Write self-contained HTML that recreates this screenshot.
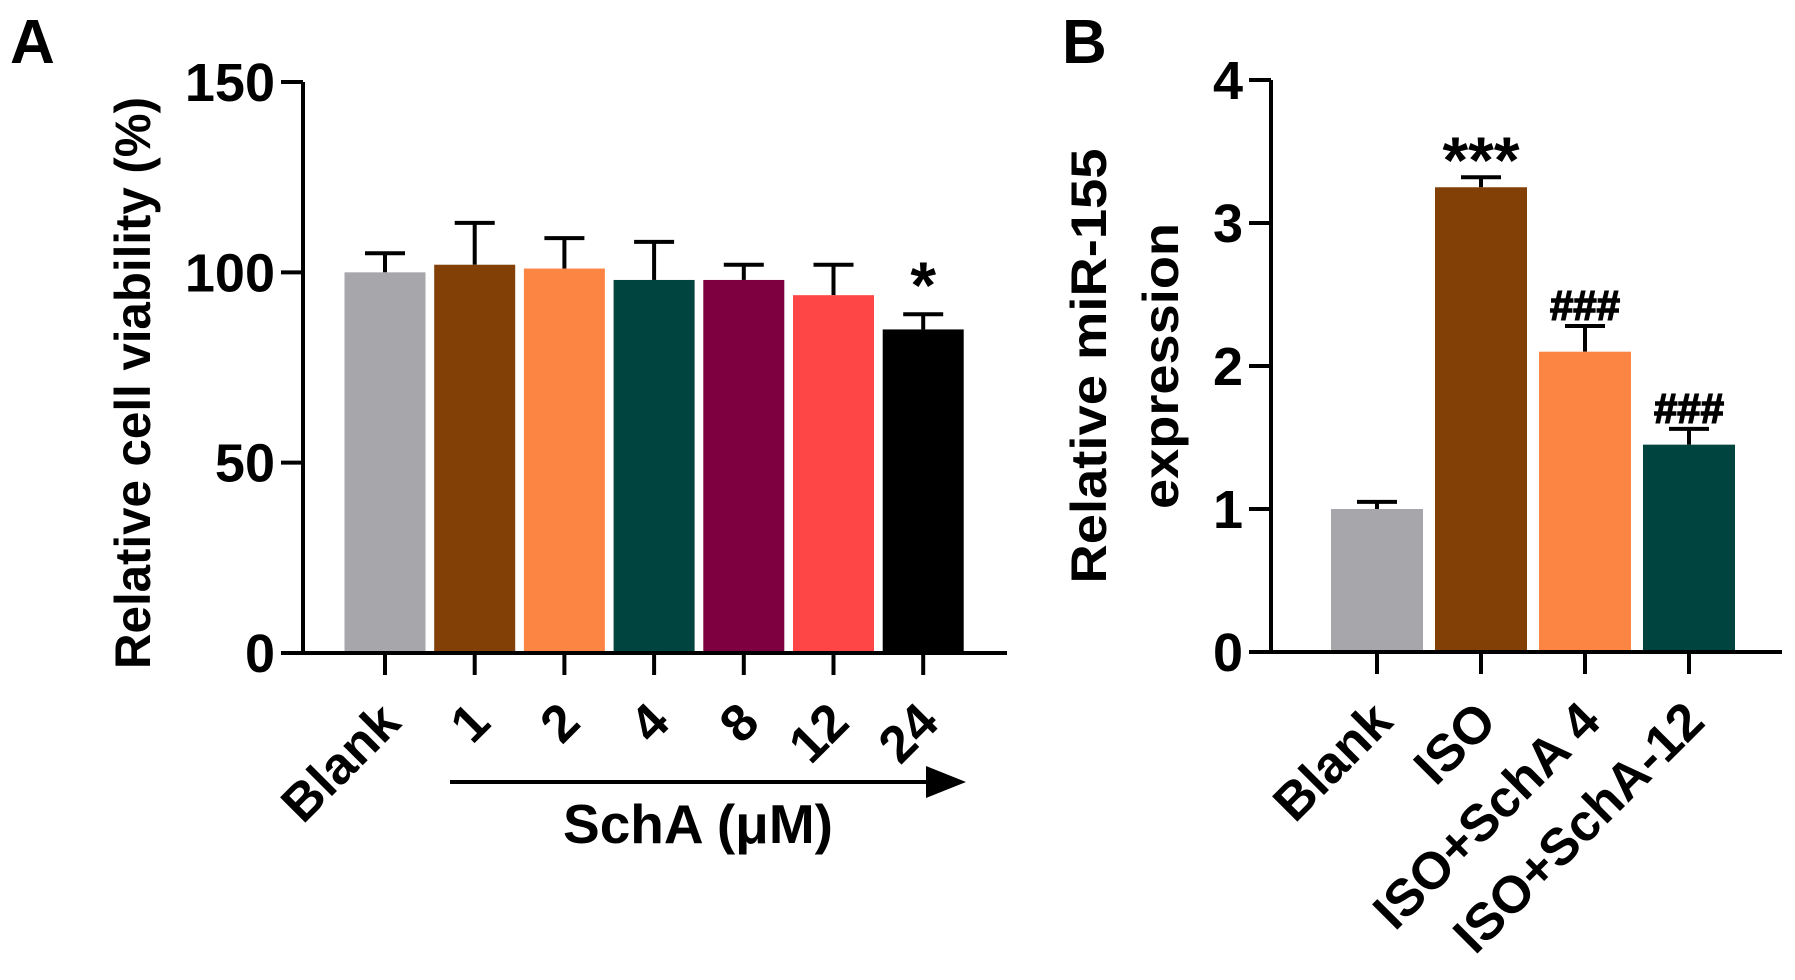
<!DOCTYPE html>
<html><head><meta charset="utf-8"><style>
html,body{margin:0;padding:0;background:#fff;}
svg{display:block;font-family:"Liberation Sans",Arial,sans-serif;font-weight:bold;}
</style></head><body>
<svg id="fig" width="1795" height="980" viewBox="0 0 1795 980">
<text x="10" y="63" font-size="62">A</text>
<text x="1062" y="63" font-size="62">B</text>
<g id="pa"></g>
<g id="pb"></g>
</svg>
<script>
const catsA = ["Blank","1","2","4","8","12","24"];
const valsA = [100,102,101,98,98,94,85];
const errA = [5,11,8,10,4,8,4];
const colorsA = ["#a7a6ab","#824006","#fd8544","#004440","#7f0040","#fe4646","#000000"];
const ticksA = [0,50,100,150];
const sigA = ["","","","","","","*"];

const catsB = ["Blank","ISO","ISO+SchA 4","ISO+SchA-12"];
const valsB = [1.0,3.25,2.1,1.45];
const errB = [0.05,0.07,0.18,0.11];
const colorsB = ["#a7a6ab","#824006","#fd8544","#004440"];
const ticksB = [0,1,2,3,4];
const sigB = ["","***","###","###"];

const NS="http://www.w3.org/2000/svg";
function mk(parent,tag,attrs,text){const e=document.createElementNS(NS,tag);for(const k in attrs)e.setAttribute(k,attrs[k]);if(text!==undefined)e.textContent=text;parent.appendChild(e);return e;}

function drawPanel(g,cfg){
  const y=v=>cfg.y0-(v-cfg.min)/(cfg.max-cfg.min)*(cfg.y0-cfg.yTop);
  const xc=i=>cfg.x0+cfg.step*i;
  cfg.cats.forEach((c,i)=>{
    const top=y(cfg.vals[i]), et=y(cfg.vals[i]+cfg.errs[i]);
    const ln=mk(g,"line",{x1:xc(i),x2:xc(i),y1:top,y2:et,stroke:"#000","stroke-width":4});
    
    
    const cap=mk(g,"line",{x1:xc(i)-20,x2:xc(i)+20,y1:et,y2:et,stroke:"#000","stroke-width":4});
    
    
    const r=mk(g,"rect",{x:xc(i)-cfg.bw/2,y:top,width:cfg.bw,height:cfg.y0-top,fill:cfg.colors[i]});
    
    
    if(cfg.sig[i]){
      const isStar=cfg.sig[i].indexOf('*')>=0;
      const s=mk(g,"text",{x:xc(i),y:et-(isStar?cfg.starOff:cfg.sigOff),"text-anchor":"middle","font-size":isStar?66:cfg.sigSize,stroke:"#000","stroke-width":isStar?0:1.5},cfg.sig[i]);
      
      
    }
    const t=mk(g,"line",{x1:xc(i),x2:xc(i),y1:cfg.y0,y2:cfg.y0+22,stroke:"#000","stroke-width":4});
    
    
    const lx=xc(i)+cfg.lblDx, ly=cfg.y0+cfg.lblDy;
    const l=mk(g,"text",{x:lx,y:ly,"text-anchor":"end","font-size":cfg.lblSize,transform:`rotate(-45 ${lx} ${ly})`},c);
    
    
  });
  const ya=mk(g,"line",{x1:cfg.ax,x2:cfg.ax,y1:cfg.yTop,y2:cfg.y0+2,stroke:"#000","stroke-width":4});
  
  
  const xa=mk(g,"line",{x1:cfg.ax-22,x2:cfg.xEnd,y1:cfg.y0,y2:cfg.y0,stroke:"#000","stroke-width":4});
  
  
  cfg.ticks.forEach(v=>{
    const t=mk(g,"line",{x1:cfg.ax-22,x2:cfg.ax,y1:y(v),y2:y(v),stroke:"#000","stroke-width":4});
    
    
    const l=mk(g,"text",{x:cfg.ax-28,y:y(v)+19,"text-anchor":"end","font-size":54},String(v));
    
    
  });
}

drawPanel(document.getElementById('pa'),{cats:catsA,vals:valsA,errs:errA,colors:colorsA,ticks:ticksA,sig:sigA,
  min:0,max:150,y0:653,yTop:82,ax:303,xEnd:1007,x0:385,step:89.7,bw:81,sigOff:8,starOff:6,sigSize:44,lblDx:18,lblDy:72,lblSize:52});
drawPanel(document.getElementById('pb'),{cats:catsB,vals:valsB,errs:errB,colors:colorsB,ticks:ticksB,sig:sigB,
  min:0,max:4,y0:652,yTop:80,ax:1271,xEnd:1782,x0:1377,step:104,bw:92,sigOff:6,starOff:-6,sigSize:42,lblDx:18,lblDy:72,lblSize:52});

const g=document.getElementById('fig');
let e=mk(g,"text",{x:0,y:0,"text-anchor":"middle","font-size":50,textLength:572,lengthAdjust:"spacingAndGlyphs",transform:"translate(150 383) rotate(-90)"},"Relative cell viability (%)");


e=mk(g,"text",{x:0,y:0,"text-anchor":"middle","font-size":50,textLength:435,lengthAdjust:"spacingAndGlyphs",transform:"translate(1106 366) rotate(-90)"},"Relative miR-155");


e=mk(g,"text",{x:0,y:0,"text-anchor":"middle","font-size":50,textLength:286,lengthAdjust:"spacingAndGlyphs",transform:"translate(1178 366) rotate(-90)"},"expression");


e=mk(g,"line",{x1:450,x2:930,y1:782,y2:782,stroke:"#000","stroke-width":4});


e=mk(g,"polygon",{points:"926,766 966,782 926,798",fill:"#000"});


e=mk(g,"text",{x:698,y:843,"text-anchor":"middle","font-size":55},"SchA (μM)");


</script>
</body></html>
